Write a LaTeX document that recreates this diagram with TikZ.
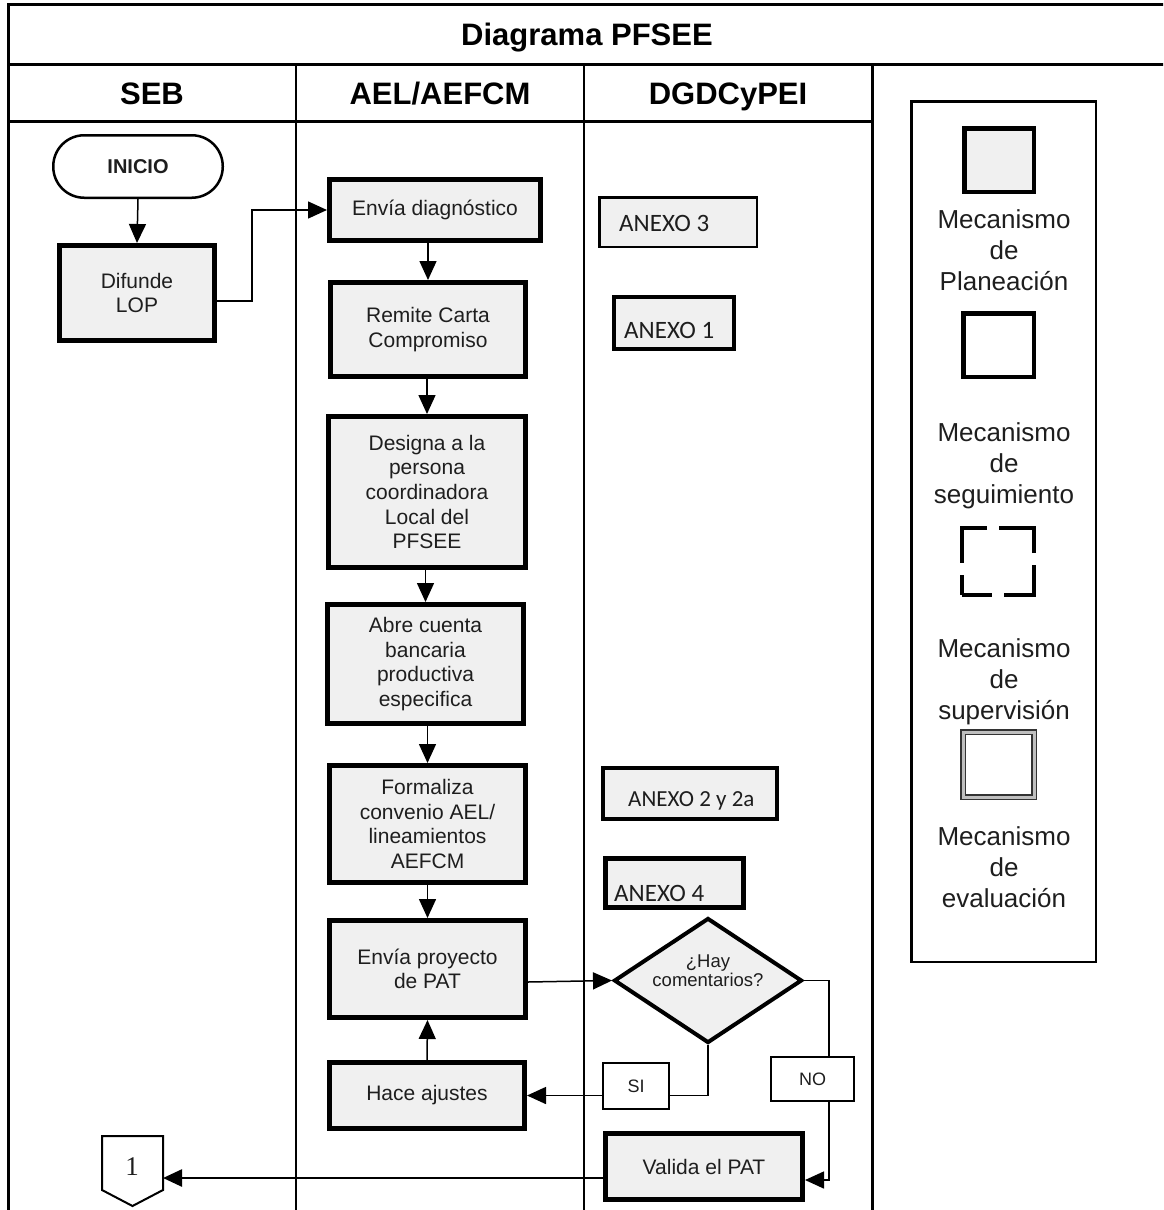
\documentclass[tikz,border=0pt]{standalone}
\usepackage{fontspec}
\setmainfont{Liberation Sans}
\newfontfamily\anexofont{Carlito}
\newfontfamily\numfont{Liberation Serif}
\usetikzlibrary{arrows.meta,shapes.geometric,calc}
\definecolor{boxfill}{HTML}{F0F0F0}
\definecolor{txt}{HTML}{1E1E1E}
\begin{document}
\begin{tikzpicture}[x=1pt,y=-1pt,
  proc/.style={draw, line width=5pt, fill=boxfill, inner sep=0pt, align=center, text=txt, font=\fontsize{21}{24.7}\selectfont},
  anexobox/.style={draw, fill=boxfill, inner sep=0pt},
  anexotxt/.style={anchor=base west, inner sep=0pt, text=txt, font=\anexofont\fontsize{25}{28}\selectfont},
  arr/.style={line width=1.5pt, -{Triangle[length=19pt,width=17pt]}},
  lbl/.style={draw, line width=2pt, fill=white, inner sep=0pt, text=txt, font=\fontsize{18}{21}\selectfont},
  legtxt/.style={align=center, inner sep=0pt, text=txt, font=\fontsize{26}{31}\selectfont},
  hdr/.style={inner sep=0pt, anchor=base, font=\bfseries\fontsize{31}{36}\selectfont},
  legsq/.style={draw, line width=4.5pt, inner sep=0pt}
]
\useasboundingbox (0,0) rectangle (1163,1210);
\clip (0,0) rectangle (1163,1210);

% frame
\draw[line width=3pt] (8,1220) -- (8,4) -- (1175,4);
\draw[line width=3pt] (8,64) -- (1175,64);
\draw[line width=3pt] (8,121) -- (872,121);
\draw[line width=2pt] (296,64) -- (296,1220);
\draw[line width=2pt] (584,64) -- (584,1220);
\draw[line width=3pt] (872,64) -- (872,1220);

% headers
\node[hdr] (title) at (587,45.5) {Diagrama PFSEE};
\node[hdr] (hseb) at (152,104.5) {SEB};
\node[hdr] (hael) at (440,104.5) {AEL/AEFCM};
\node[hdr] (hdg) at (728,104.5) {DGDCyPEI};

% SEB column
\node[draw, line width=2.5pt, rounded corners=31pt, minimum width=169.5pt, minimum height=62.5pt, inner sep=0pt, text=txt, font=\bfseries\fontsize{20}{24}\selectfont] (inicio) at (138,166.5) {INICIO};
\node[proc, minimum width=155pt, minimum height=95pt] (difunde) at (137,293) {Difunde\\LOP};

% AEL column
\node[proc, minimum width=211pt, minimum height=61pt] (envia) at (435,210) {Envía diagnóstico};
\node[proc, minimum width=195pt, minimum height=94pt] (remite) at (428,329.5) {Remite Carta\\Compromiso};
\node[proc, minimum width=197pt, minimum height=151pt] (designa) at (427,492) {Designa a la\\persona\\coordinadora\\Local del\\PFSEE};
\node[proc, minimum width=196pt, minimum height=119pt] (abre) at (425.5,664) {Abre cuenta\\bancaria\\productiva\\especifica};
\node[proc, minimum width=196pt, minimum height=117pt] (formaliza) at (427.5,824) {Formaliza\\convenio AEL/\\lineamientos\\AEFCM};
\node[proc, minimum width=196pt, minimum height=97pt] (enviapat) at (427.5,969) {Envía proyecto\\de PAT};
\node[proc, minimum width=195pt, minimum height=66pt] (hace) at (427,1095.5) {Hace ajustes};

% DGDCyPEI column
\node[anexobox, line width=2.5pt, minimum width=157.5pt, minimum height=49.5pt] (a3) at (678,222) {};
\node[anexotxt] (a3t) at (619,231) {ANEXO 3};
\node[anexobox, line width=4pt, minimum width=120pt, minimum height=52pt] (a1) at (674,323) {};
\node[anexotxt] (a1t) at (624,338) {ANEXO 1};
\node[anexobox, line width=4.5pt, minimum width=174pt, minimum height=51pt] (a2) at (690,793.5) {};
\node[anexotxt, font=\anexofont\fontsize{23}{26}\selectfont] (a2t) at (628,806) {ANEXO 2 y 2a};
\node[anexobox, line width=5pt, minimum width=138pt, minimum height=49pt] (a4) at (674.5,883) {};
\node[anexotxt] (a4t) at (614,901) {ANEXO 4};

\node[draw, diamond, line width=4pt, fill=boxfill, minimum width=188pt, minimum height=125pt, inner sep=0pt] (dia) at (708,980.5) {};
\node[align=center, inner sep=0pt, text=txt, font=\fontsize{18.5}{19}\selectfont] (diat) at (708,971) {¿Hay\\comentarios?};

\node[proc, minimum width=197pt, minimum height=66pt] (valida) at (704,1166.5) {Valida el PAT};

% off-page connector
\draw[line width=2pt, fill=white] (102,1136) -- (163,1136) -- (163,1190) -- (132.5,1206) -- (102,1190) -- cycle;
\node[inner sep=0pt, text=txt, font=\numfont\fontsize{27}{30}\selectfont] (one) at (132,1167) {1};
\coordinate (c1) at (163,1178);

% connectors
\draw[arr] (inicio.south) -- (difunde.north);
\draw[arr] ([yshift=-8pt]difunde.east) -- ++(35,0) |- (envia.west);
\draw[arr] (envia.south -| remite.north) -- (remite.north);
\draw[arr] (remite.south -| designa.north) -- (designa.north);
\draw[arr] (designa.south -| abre.north) -- (abre.north);
\draw[arr] (abre.south -| formaliza.north) -- (formaliza.north);
\draw[arr] (formaliza.south -| enviapat.north) -- (enviapat.north);
\draw[arr] (hace.north) -- (enviapat.south);
\draw[arr] ([yshift=-13pt]enviapat.east) -- (dia.west);
\draw[arr] (dia.south) |- (hace.east);
\draw[arr] (dia.east) -- ++(25,0) |- ([yshift=-13.5pt]valida.east);
\draw[arr, line width=2.5pt] ([yshift=-11.5pt]valida.west) -- (c1);

\node[lbl, minimum width=66pt, minimum height=46pt] (si) at (636,1086) {SI};
\node[lbl, minimum width=83pt, minimum height=44pt] (no) at (812.5,1079) {NO};

% legend
\node[draw, line width=2.5pt, minimum width=184.5pt, minimum height=860.5pt, inner sep=0pt] (legend) at (1003.5,531.5) {};
\node[legsq, fill=boxfill, minimum width=69.5pt, minimum height=63.5pt] (sqplan) at (999,160) {};
\node[legtxt] (tplan) at (1004,250) {Mecanismo\\de\\Planeación};
\node[legsq, fill=white, minimum width=70.5pt, minimum height=63.5pt] (sqseg) at (998.5,345) {};
\node[legtxt] (tseg) at (1004,466) {Mecanismo\\de\\seguimiento};
\node[draw, line width=4pt, dash pattern=on 60pt off 12pt, dash phase=30pt, minimum width=72pt, minimum height=67pt, inner sep=0pt] (sqsup) at (998,561.5) {};
\node[legtxt] (tsup) at (1004,682) {Mecanismo\\de\\supervisión};
\node[draw=black!80, line width=1.5pt, double=black!25, double distance=3pt, fill=white, minimum width=71pt, minimum height=65pt, inner sep=0pt] (sqeval) at (998.5,764.5) {};
\node[legtxt] (teval) at (1004,867) {Mecanismo\\de\\evaluación};
\end{tikzpicture}
\end{document}
